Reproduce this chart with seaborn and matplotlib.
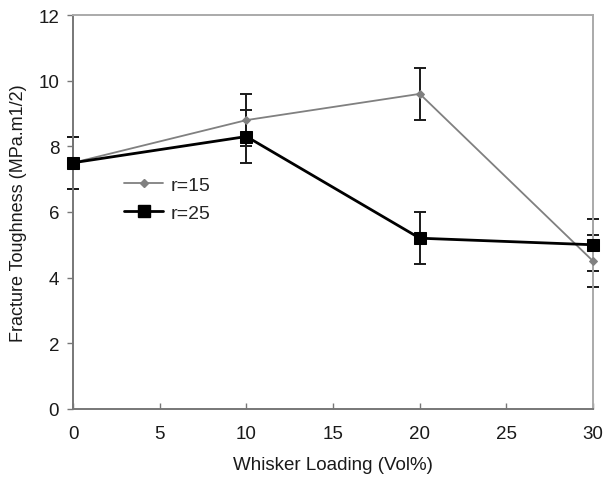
import numpy as np
import pandas as pd
import matplotlib
matplotlib.use('Agg')
import matplotlib.pyplot as plt
import seaborn as sns
from matplotlib.lines import Line2D

# Data
loading = [0, 10, 20, 30]
r15_vals = [7.5, 8.8, 9.6, 4.5]
r25_vals = [7.5, 8.3, 5.2, 5.0]
r15_err = [0.8, 0.8, 0.8, 0.8]
r25_err = [0.8, 0.8, 0.8, 0.8]
x_ticks = [0, 5, 10, 15, 20, 25, 30]
y_ticks = [0, 2, 4, 6, 8, 10, 12]

df = pd.DataFrame({
    'loading': loading * 2,
    'toughness': r15_vals + r25_vals,
    'err': r15_err + r25_err,
    'series': ['r=15'] * 4 + ['r=25'] * 4,
})

sns.set_style('white')
plt.rcParams['font.family'] = ['Liberation Sans', 'DejaVu Sans']

fig = plt.figure(figsize=(6.14, 4.89), dpi=100)
ax = fig.add_axes([0.119, 0.162, 0.847, 0.805])

# error bars first, so lines sit on top
for name, sub in df.groupby('series'):
    ax.errorbar(sub['loading'], sub['toughness'], yerr=sub['err'], fmt='none',
                ecolor='#1a1a1a', elinewidth=1.4, capsize=4.3, capthick=1.4,
                zorder=2, clip_on=False)

sns.lineplot(data=df, x='loading', y='toughness', hue='series', style='series',
             palette={'r=15': '#808080', 'r=25': '#000000'},
             markers={'r=15': 'D', 'r=25': 's'}, dashes=False,
             ax=ax, legend=False, zorder=3)
ax.lines[-2].set_linewidth(1.3)
ax.lines[-1].set_linewidth(2.0)
for ln, ms in zip(ax.lines[-2:], [4.5, 8.5]):
    ln.set_markersize(ms)
    ln.set_clip_on(False)
    ln.set_markeredgecolor(ln.get_color())

# legend drawn manually to match the reference
handles = [Line2D([], [], color='#808080', marker='D', markersize=4.5, lw=1.3),
           Line2D([], [], color='#000000', marker='s', markersize=8, lw=2.0)]
ax.legend(handles, ['r=15', 'r=25'], loc='upper left', bbox_to_anchor=(0.065, 0.635),
          frameon=False, fontsize=14, handlelength=2.0, labelspacing=0.55,
          handletextpad=0.4)

ax.set_xlim(0, 30)
ax.set_ylim(0, 12)
ax.set_xticks(x_ticks)
ax.set_yticks(y_ticks)
ax.set_xlabel('Whisker Loading (Vol%)', fontsize=13.5, labelpad=10, color='#1a1a1a')
ax.set_ylabel('Fracture Toughness (MPa.m1/2)', fontsize=13, labelpad=8, color='#1a1a1a')
ax.tick_params(axis='both', labelsize=13.5, labelcolor='#1a1a1a', length=4, width=1,
               bottom=True, left=True)
ax.tick_params(axis='x', direction='in', pad=12, color='#777777')
ax.tick_params(axis='y', direction='out', pad=6, color='#777777')

for side in ['left', 'bottom']:
    ax.spines[side].set_color('#777777')
    ax.spines[side].set_linewidth(1.4)
for side in ['top', 'right']:
    ax.spines[side].set_color('#aaaaaa')
    ax.spines[side].set_linewidth(1.4)

fig.savefig('out.png', dpi=100)
